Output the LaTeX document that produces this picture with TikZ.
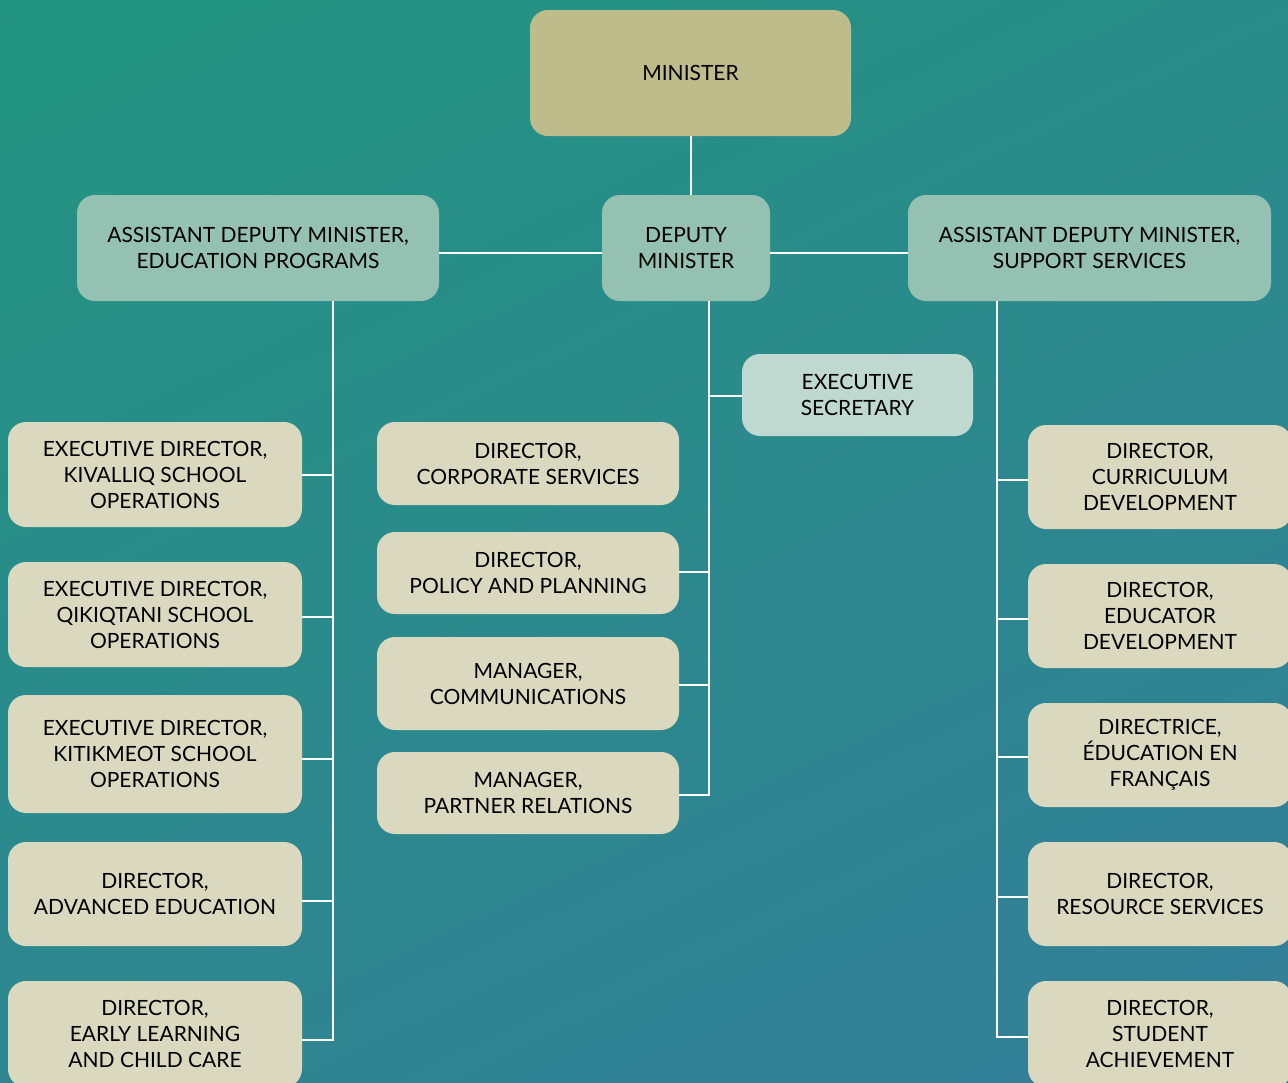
\documentclass[tikz,border=0pt]{standalone}
\usepackage{fontspec}
\setmainfont{Lato}
\definecolor{bgtop}{RGB}{34,149,128}
\definecolor{bgbot}{RGB}{52,126,153}
\definecolor{minc}{RGB}{190,188,139}
\definecolor{admc}{RGB}{149,193,179}
\definecolor{secc}{RGB}{191,216,208}
\definecolor{dirc}{RGB}{218,217,191}
\begin{document}
\begin{tikzpicture}[x=1pt,y=-1pt,
  box/.style={rounded corners=18pt, inner sep=0pt, align=center, text=black,
    font=\fontsize{21}{26}\selectfont},
  link/.style={draw=white, line width=2pt}]
\useasboundingbox (0,0) rectangle (1288,1082);
\clip (0,0) rectangle (1288,1082);
\shade[top color=bgtop, bottom color=bgbot, shading angle=25] (-200,-200) rectangle (1488,1282);
% boxes: (cx,cy) width height
\newcommand{\orgbox}[7]{\node[box, fill=#2, minimum width=#5pt, minimum height=#6pt] (#1) at (#3,#4) {#7};}
\orgbox{min}{minc}{690.5}{73}{321}{126}{MINISTER}
\orgbox{admE}{admc}{258}{248}{362}{106}{ASSISTANT DEPUTY MINISTER,\\EDUCATION PROGRAMS}
\orgbox{dep}{admc}{686}{248}{168}{106}{DEPUTY\\MINISTER}
\orgbox{admS}{admc}{1089.5}{248}{363}{106}{ASSISTANT DEPUTY MINISTER,\\SUPPORT SERVICES}
\orgbox{sec}{secc}{857.5}{395}{231}{82}{EXECUTIVE\\SECRETARY}
% left column
\orgbox{kiv}{dirc}{155}{474.5}{294}{105}{EXECUTIVE DIRECTOR,\\KIVALLIQ SCHOOL\\OPERATIONS}
\orgbox{qik}{dirc}{155}{614.5}{294}{105}{EXECUTIVE DIRECTOR,\\QIKIQTANI SCHOOL\\OPERATIONS}
\orgbox{kit}{dirc}{155}{754}{294}{118}{EXECUTIVE DIRECTOR,\\KITIKMEOT SCHOOL\\OPERATIONS}
\orgbox{adv}{dirc}{155}{894}{294}{104}{DIRECTOR,\\ADVANCED EDUCATION}
\orgbox{ear}{dirc}{155}{1034}{294}{106}{DIRECTOR,\\EARLY LEARNING\\AND CHILD CARE}
% middle column
\orgbox{cor}{dirc}{528}{463.5}{302}{83}{DIRECTOR,\\CORPORATE SERVICES}
\orgbox{pol}{dirc}{528}{573}{302}{82}{DIRECTOR,\\POLICY AND PLANNING}
\orgbox{com}{dirc}{528}{683.5}{302}{93}{MANAGER,\\COMMUNICATIONS}
\orgbox{par}{dirc}{528}{793}{302}{82}{MANAGER,\\PARTNER RELATIONS}
% right column
\orgbox{cur}{dirc}{1160}{477}{264}{104}{DIRECTOR,\\CURRICULUM\\DEVELOPMENT}
\orgbox{edu}{dirc}{1160}{616}{264}{104}{DIRECTOR,\\EDUCATOR\\DEVELOPMENT}
\orgbox{fra}{dirc}{1160}{755}{264}{104}{DIRECTRICE,\\ÉDUCATION EN\\FRANÇAIS}
\orgbox{res}{dirc}{1160}{894}{264}{104}{DIRECTOR,\\RESOURCE SERVICES}
\orgbox{stu}{dirc}{1160}{1034}{264}{106}{DIRECTOR,\\STUDENT\\ACHIEVEMENT}
% connectors
\draw[link] (min.south) -- (min.south |- dep.north);
\draw[link] (admE.east |- 0,253) -- (dep.west |- 0,253);
\draw[link] (dep.east |- 0,253) -- (admS.west |- 0,253);
\coordinate (lt) at (333,301);
\coordinate (mt) at (709,301);
\coordinate (rt) at (997,301);
\draw[link] (lt) -- (333,1040) -- (ear.east |- 0,1040);
\foreach \n/\y in {kiv/475,qik/617,kit/759,adv/901}{
  \draw[link] (333,\y) -- (\n.east |- 0,\y);
}
\draw[link] (mt) -- (709,795) -- (par.east |- 0,795);
\draw[link] (709,396) -- (sec.west |- 0,396);
\foreach \n/\y in {pol/572,com/685}{
  \draw[link] (709,\y) -- (\n.east |- 0,\y);
}
\draw[link] (rt) -- (997,1037) -- (stu.west |- 0,1037);
\foreach \n/\y in {cur/480,edu/619,fra/757,res/897}{
  \draw[link] (997,\y) -- (\n.west |- 0,\y);
}
\end{tikzpicture}
\end{document}
